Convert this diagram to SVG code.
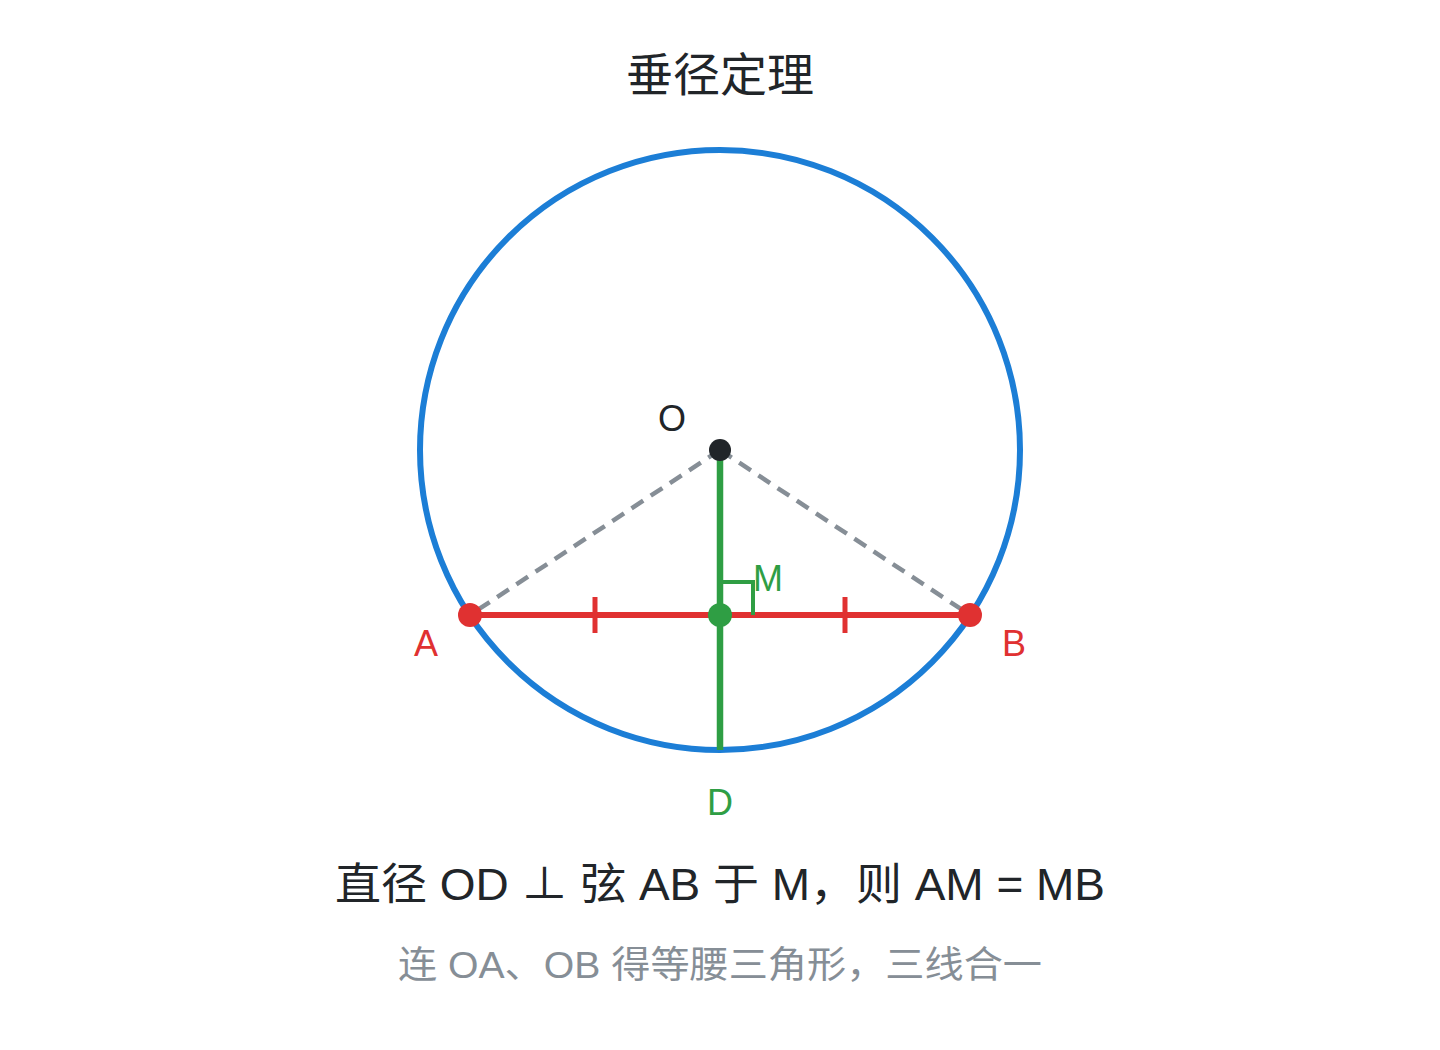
<svg xmlns="http://www.w3.org/2000/svg" width="1440" height="1050" viewBox="0 0 1440 1050">
<style>
text{font-family:"Liberation Sans","Noto Sans CJK SC",sans-serif;text-anchor:middle}
.dark{fill:#212529}
.red{fill:#e03131}
.green{fill:#2f9e44}
.gray{fill:#868e96}
</style>
<rect width="1440" height="1050" fill="#ffffff"/>
<text class="dark" x="720" y="91" font-size="46" textLength="188" lengthAdjust="spacingAndGlyphs">垂径定理</text>
<g id="circle"><circle cx="720" cy="450" r="300" fill="none" stroke="#1c7ed6" stroke-width="6"/></g>
<g id="connectors">
<line x1="720" y1="450" x2="470" y2="615" stroke="#868e96" stroke-width="4.5" stroke-dasharray="14 9"/>
<line x1="720" y1="450" x2="970" y2="615" stroke="#868e96" stroke-width="4.5" stroke-dasharray="14 9"/>
<line x1="470" y1="615" x2="970" y2="615" stroke="#e03131" stroke-width="6"/>
<line x1="595" y1="597" x2="595" y2="633" stroke="#e03131" stroke-width="5"/>
<line x1="845" y1="597" x2="845" y2="633" stroke="#e03131" stroke-width="5"/>
<line x1="720" y1="450" x2="720" y2="750" stroke="#2f9e44" stroke-width="6.5"/>
<polyline points="720,582 753,582 753,615" fill="none" stroke="#2f9e44" stroke-width="4"/>
</g>
<g id="O"><circle cx="720" cy="450" r="11" fill="#212529"/><text class="dark" x="672" y="431" font-size="36">O</text></g>
<g id="A"><circle cx="470" cy="615" r="12" fill="#e03131"/><text class="red" x="426" y="656" font-size="36">A</text></g>
<g id="B"><circle cx="970" cy="615" r="12" fill="#e03131"/><text class="red" x="1014" y="656" font-size="36">B</text></g>
<g id="M"><circle cx="720" cy="615" r="12" fill="#2f9e44"/><text class="green" x="768" y="591" font-size="36">M</text></g>
<g id="D"><text class="green" x="720" y="815" font-size="36">D</text></g>
<text class="dark" x="720" y="900" font-size="44" textLength="770" lengthAdjust="spacingAndGlyphs">直径 OD ⊥ 弦 AB 于 M，则 AM = MB</text>
<text class="gray" x="720" y="978" font-size="37" textLength="644" lengthAdjust="spacingAndGlyphs">连 OA、OB 得等腰三角形，三线合一</text>
</svg>
